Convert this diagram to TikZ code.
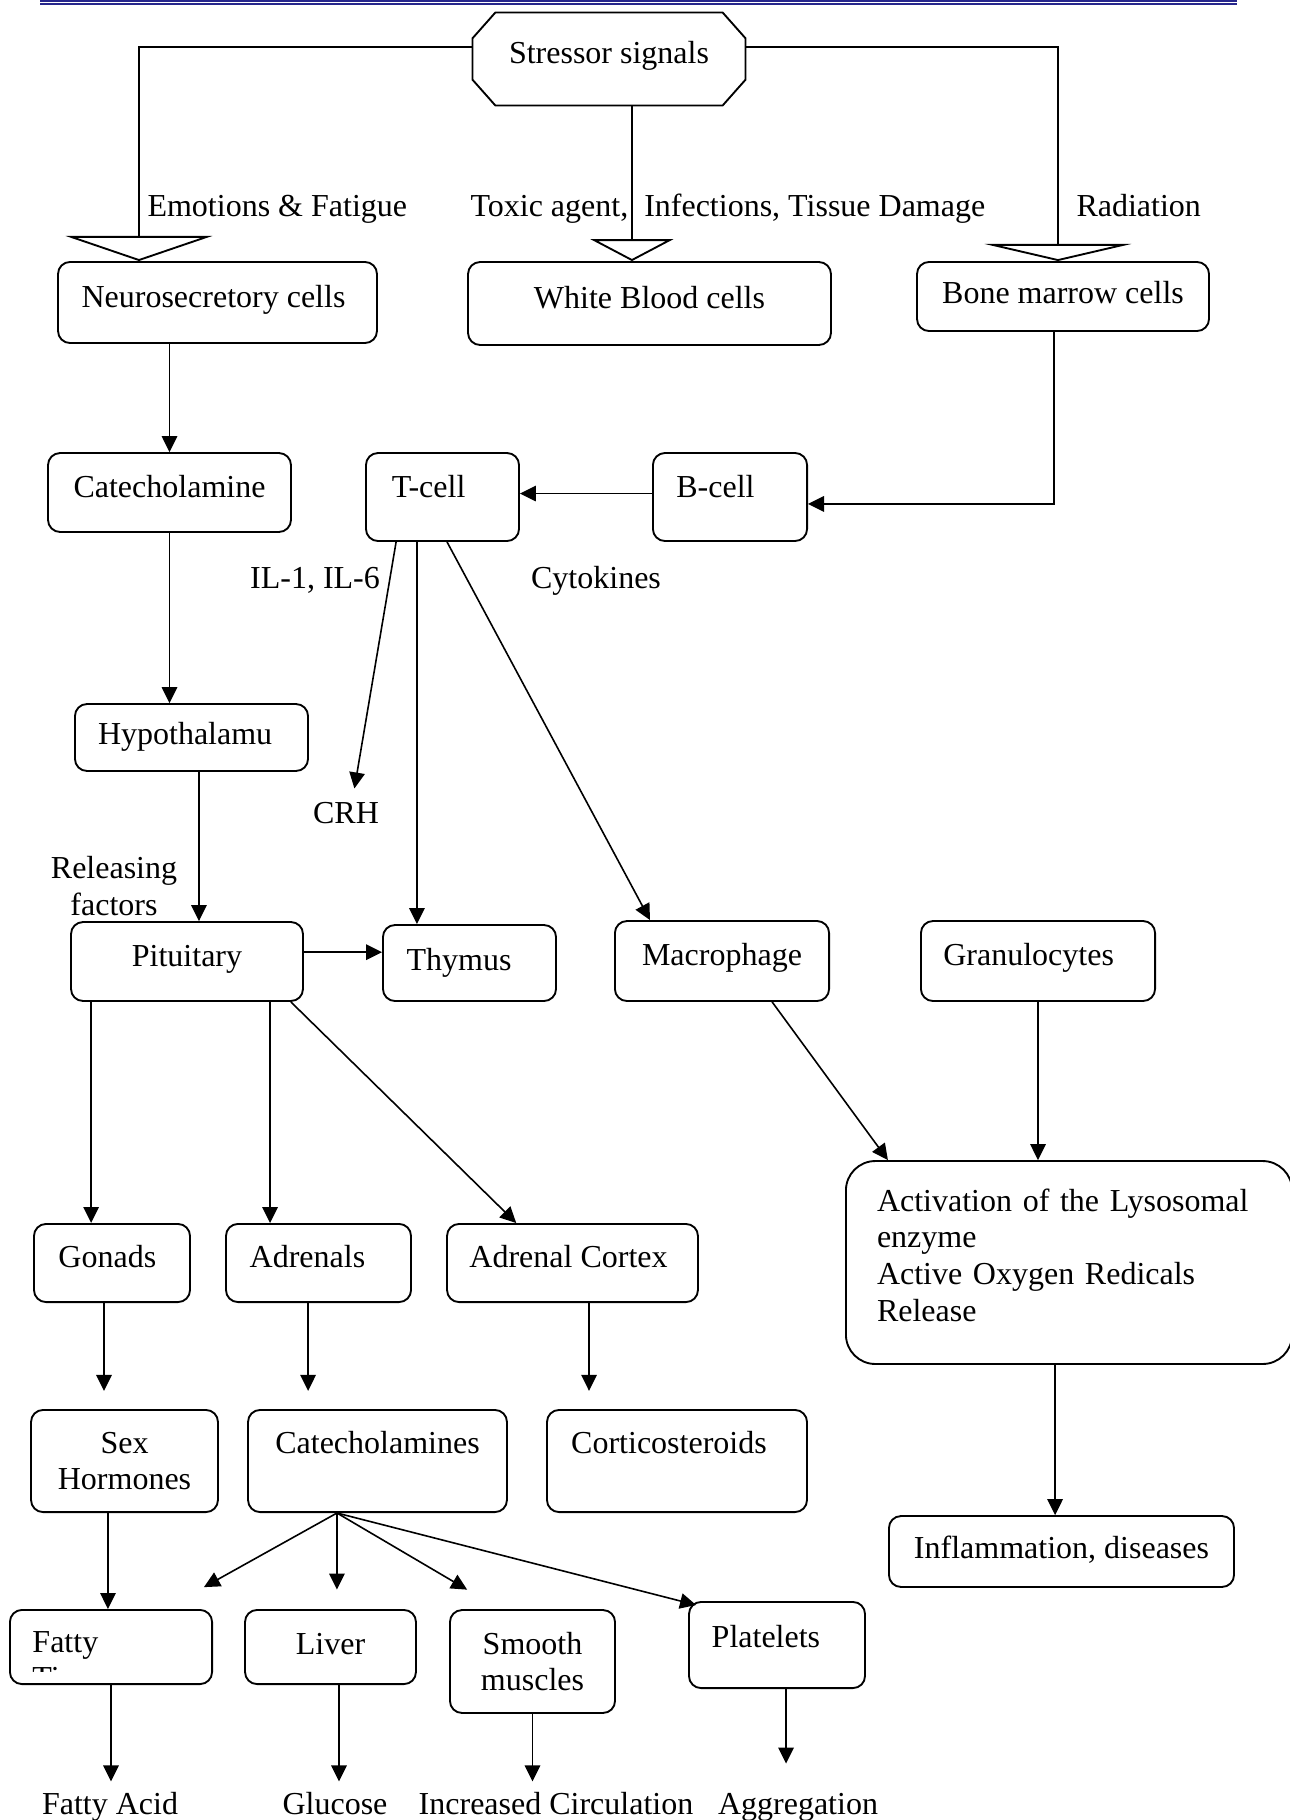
\documentclass[tikz,border=0pt]{standalone}
\usepackage{fontspec}
\setmainfont{Liberation Serif}
\usetikzlibrary{arrows.meta}
\definecolor{rulenavy}{RGB}{38,38,140}
\tikzset{
  box/.style={draw, line width=0.7pt, rounded corners=4.5pt, inner sep=2pt},
  tbox/.style={box, text height=8.5pt, text depth=#1},
  tbox/.default=5pt,
  lshift/.style={execute at end node={\hspace*{#1}}},
  lbl/.style={inner sep=0pt, align=center},
  tlbl/.style={inner sep=0pt, text height=8.5pt, text depth=2.5pt},
  arr/.style={line width=0.6pt, -{Triangle[length=6pt, width=5.8pt]}},
  feed/.style 2 args={line width=0.7pt, -{Triangle[open, length=#1, width=#2]}},
}
\begin{document}
\begin{tikzpicture}[x=0.375pt, y=-0.375pt, font=\fontsize{12pt}{13.8pt}\selectfont]
  \useasboundingbox (0,0) rectangle (1290,1820);
  % page rule
  \draw[rulenavy, line width=0.4pt] (40,1) -- (1237,1);
  \draw[rulenavy, line width=0.8pt] (40,4.2) -- (1237,4.2);

  % stressor
  \node[minimum width=102pt, minimum height=34.5pt, text height=8.5pt, text depth=5pt] (stress) at (609,59) {Stressor signals};
  \draw[line width=0.7pt] ([xshift=8.6pt]stress.north west) -- ([xshift=-8.6pt]stress.north east)
    -- ([yshift=-9.7pt]stress.north east) -- ([yshift=9.7pt]stress.south east)
    -- ([xshift=-8.6pt]stress.south east) -- ([xshift=8.6pt]stress.south west)
    -- ([yshift=9.7pt]stress.south west) -- ([yshift=-9.7pt]stress.north west) -- cycle;

  \node[tlbl, anchor=west] (emo) at (147,208) {Emotions \& Fatigue};
  \node[tlbl, anchor=west] (toxic) at (470,208) {Toxic agent,\ \ Infections, Tissue Damage};
  \node[tlbl, anchor=west] (rad) at (1076,208) {Radiation};

  \node[tbox, lshift=3pt, minimum width=119.6pt, minimum height=30.4pt] (neuro) at (217.5,302.5) {Neurosecretory cells};
  \node[tbox, minimum width=136.1pt, minimum height=31.1pt] (wbc) at (649.5,303.5) {White Blood cells};
  \node[tbox=3pt, minimum width=109.5pt, minimum height=25.9pt] (bone) at (1063,296.5) {Bone marrow cells};

  \draw[feed={9.4pt}{55pt}] ([yshift=4.5pt]stress.west) -| ([xshift=30.7pt]neuro.north west);
  \draw[feed={8.2pt}{31pt}] ([xshift=8.6pt]stress.south) -- ([xshift=8.6pt]stress.south |- wbc.north);
  \draw[feed={6.4pt}{55pt}] ([yshift=4.5pt]stress.east) -| ([xshift=53.2pt]bone.north west);

  % cells
  \node[tbox, minimum width=91.1pt, minimum height=29.6pt] (cat) at (169.5,492.5) {Catecholamine};
  \node[tbox=8pt, lshift=10.4pt, minimum width=57.4pt, minimum height=33pt] (tcell) at (442.5,497) {T-cell};
  \node[tbox=8pt, lshift=10.9pt, minimum width=57.8pt, minimum height=33pt] (bcell) at (730,497) {B-cell};
  \node[tbox=3pt, lshift=4.8pt, minimum width=87.4pt, minimum height=25.1pt] (hypo) at (191.5,737.5) {Hypothalamu};

  \node[tlbl] (il) at (315,580) {IL-1, IL-6};
  \node[tlbl] (cyto) at (596,580) {Cytokines};
  \node[tlbl] (crh) at (346,815.5) {CRH};
  \node[lbl] (relf) at (114,886) {Releasing\\factors};

  \draw[arr] (cat.north |- neuro.south) -- (cat.north);
  \draw[arr] ([xshift=-3.4pt]bone.south) |- ([yshift=-2.6pt]bcell.east);
  \draw[arr] ([yshift=1.3pt]bcell.west) -- ([yshift=1.3pt]tcell.east);
  \draw[arr] (cat.south) -- (cat.south |- hypo.north);

  % glands
  \node[tbox, minimum width=87pt, minimum height=29.6pt] (pit) at (187,961.5) {Pituitary};
  \node[tbox=3pt, lshift=7.8pt, minimum width=64.9pt, minimum height=28.5pt] (thymus) at (469.5,963) {Thymus};
  \node[tbox=5.5pt, minimum width=80.3pt, minimum height=30pt] (mac) at (722,961) {Macrophage};
  \node[tbox=5.5pt, lshift=7pt, minimum width=87.8pt, minimum height=30pt] (gran) at (1038,961) {Granulocytes};

  \draw[arr, shorten >=4.5pt] ([xshift=-17.4pt]tcell.south) -- ([xshift=2.4pt]crh.north);
  \draw[arr] ([xshift=-9.6pt]tcell.south) -- ([xshift=-9.6pt]tcell.south |- thymus.north);
  \draw[arr] ([xshift=1.7pt]tcell.south) -- ([xshift=13.5pt]mac.north west);
  \draw[arr] ([xshift=2.8pt]hypo.south) -- ([xshift=2.8pt]hypo.south |- pit.north);
  \draw[arr] ([yshift=3.5pt]pit.east) -- ([yshift=3.5pt]pit.east -| thymus.west);

  \node[box, rounded corners=11pt, text width=144pt, align=left, minimum width=167.3pt, minimum height=76.1pt] (act) at (1069,1262.5)
    {Activation of the Lysosomal\\enzyme\\Active Oxygen Redicals\\Release\rule[-5.6pt]{0pt}{5.6pt}};
  \node[tbox=3pt, minimum width=129.4pt, minimum height=26.6pt] (infl) at (1061.5,1551.5) {Inflammation, diseases};

  \draw[arr] ([xshift=18.8pt]mac.south) -- ([xshift=16.1pt]act.north west);
  \draw[arr] (gran.south) -- (gran.south |- act.north);
  \draw[arr] ([xshift=-2.4pt]infl.north |- act.south) -- ([xshift=-2.4pt]infl.north);

  \node[tbox=4.8pt, lshift=3.5pt, minimum width=58.5pt, minimum height=29.3pt] (gon) at (112,1263) {Gonads};
  \node[tbox=4.8pt, lshift=8.3pt, minimum width=69.4pt, minimum height=29.3pt] (adr) at (318.5,1263) {Adrenals};
  \node[tbox=4.8pt, lshift=3pt, minimum width=94.1pt, minimum height=29.3pt] (cortex) at (572.5,1263) {Adrenal Cortex};

  \draw[arr] ([xshift=7.9pt]pit.south west) -- ([xshift=7.9pt]pit.south west |- gon.north);
  \draw[arr] ([xshift=75pt]pit.south west) -- ([xshift=75pt]pit.south west |- adr.north);
  \draw[arr] ([xshift=-4.9pt]pit.south east) -- ([xshift=26.3pt]cortex.north west);

  % hormones
  \node[box, align=center, minimum width=70.1pt, minimum height=38.3pt] (sexh) at (124.5,1461) {Sex\\Hormones};
  \node[tbox=14pt, minimum width=97.1pt, minimum height=38.3pt] (cats) at (377.5,1461) {Catecholamines};
  \node[tbox=14pt, lshift=6pt, minimum width=97.5pt, minimum height=38.3pt] (cortico) at (677,1461) {Corticosteroids};

  \draw[arr, shorten >=6.8pt] ([xshift=-3pt]gon.south) -- ([xshift=-3pt]gon.south |- sexh.north);
  \draw[arr, shorten >=6.8pt] ([xshift=-3.9pt]adr.south) -- ([xshift=-3.9pt]adr.south |- cats.north);
  \draw[arr, shorten >=6.8pt] ([xshift=6.2pt]cortex.south) -- ([xshift=6.2pt]cortex.south |- cortico.north);

  % targets
  \node[box, minimum width=75.8pt, minimum height=27.8pt] (fatty) at (111,1647) {};
  \begin{scope}
    \clip (fatty.north west) rectangle ([yshift=5pt]fatty.south east);
    \node[lbl, anchor=north west, align=left] (fattyt) at ([xshift=8.6pt,yshift=-8.1pt]fatty.north west) {Fatty\\Tissue};
  \end{scope}
  \node[tbox=3pt, minimum width=64.1pt, minimum height=27.8pt] (liver) at (330.5,1647) {Liver};
  \node[box, align=center, minimum width=61.9pt, minimum height=38.6pt] (smooth) at (532.5,1661.5) {Smooth\\muscles};
  \node[tbox=7pt, lshift=8.3pt, minimum width=66pt, minimum height=32.3pt] (plate) at (777,1645) {Platelets};

  \draw[arr] ([xshift=-6.2pt]sexh.south) -- ([xshift=-6.2pt]sexh.south |- fatty.north);
  \coordinate (fan) at ([xshift=-15.2pt]cats.south);
  \draw[arr] (fan) -- ([xshift=-3.4pt,yshift=8.2pt]fatty.north east);
  \draw[arr, shorten >=7.3pt] (fan) -- (fan |- liver.north);
  \draw[arr] (fan) -- ([xshift=6.8pt,yshift=7.3pt]smooth.north west);
  \draw[arr] (fan) -- ([xshift=3pt,yshift=-1.5pt]plate.north west);

  \node[tlbl] (fa) at (110,1806) {Fatty Acid};
  \node[tlbl] (gluc) at (335,1806) {Glucose};
  \node[tlbl] (circ) at (556,1806) {Increased Circulation};
  \node[tlbl] (aggr) at (798,1806) {Aggregation};

  \draw[arr, shorten >=3.5pt] (fatty.south) -- (fatty.south |- fa.north);
  \draw[arr, shorten >=3.5pt] ([xshift=1.5pt]gluc.north |- liver.south) -- ([xshift=1.5pt]gluc.north);
  \draw[arr, shorten >=3.5pt] (smooth.south) -- (smooth.south |- circ.north);
  \draw[arr, shorten >=10.2pt] ([xshift=3.4pt]plate.south) -- ([xshift=3.4pt]plate.south |- aggr.north);
\end{tikzpicture}
\end{document}
